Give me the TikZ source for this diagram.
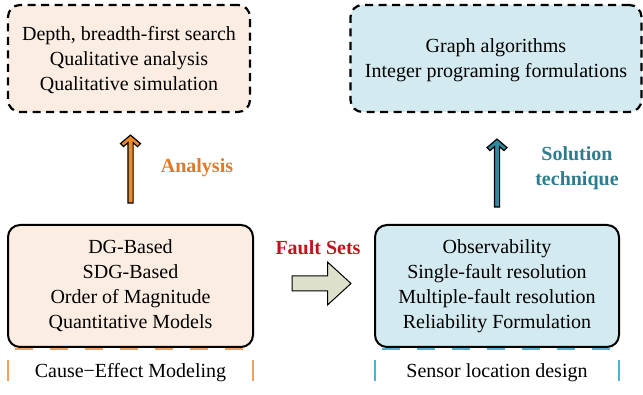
\documentclass[tikz,border=0pt]{standalone}
\usepackage{fontspec}
\setmainfont{Liberation Serif}
\usetikzlibrary{calc}
\definecolor{peach}{HTML}{FCEDE2}
\definecolor{paleblue}{HTML}{D3EAF0}
\definecolor{arrorange}{HTML}{EC8A2E}
\definecolor{arrteal}{HTML}{2F8A9E}
\definecolor{txtorange}{HTML}{E07A28}
\definecolor{txtteal}{HTML}{2E7D8E}
\definecolor{faultred}{HTML}{C0141C}
\definecolor{blockfill}{HTML}{DDE0CA}
\definecolor{dashorange}{HTML}{F5A05A}
\definecolor{dashblue}{HTML}{4DB3CE}
\tikzset{
  txt/.style={font=\fontsize{20}{25}\selectfont, align=center, inner sep=0pt},
  topbox/.style={txt, draw=black, line width=2.2pt, dash pattern=on 8pt off 5.5pt, rounded corners=12pt},
  mainbox/.style={txt, draw=black, line width=2pt, rounded corners=12pt},
  tagtext/.style={font=\fontsize{20}{25}\selectfont\bfseries, align=center, inner sep=0pt},
  lblframe/.style={line width=2pt},
  hframe/.style={lblframe, dash pattern=on 18pt off 17pt, dash phase=28pt},
  vframe/.style={lblframe, dash pattern=on 21pt off 100pt, dash phase=110.5pt},
  pics/uparrow/.style n args={2}{code={
    \draw[line width=1.2pt, fill=#1, line join=miter]
      (0,-3) -- (-10,5.5) -- (-7,8.5) -- (-2.6,4.6) -- (-2.6,#2) -- (2.6,#2)
      -- (2.6,4.6) -- (7,8.5) -- (10,5.5) -- cycle;
  }},
}
\begin{document}
\begin{tikzpicture}[x=1pt,y=-1pt]
\useasboundingbox (0,0) rectangle (643,395);

% method boxes (top row)
\node[topbox, fill=peach, minimum width=242pt, minimum height=107pt, text depth=-4pt] (tl) at (129,58.5)
  {Depth, breadth-first search\\Qualitative analysis\\Qualitative simulation};
\node[topbox, fill=paleblue, minimum width=291pt, minimum height=107pt, text depth=-4pt] (tr) at (496,58.5)
  {Graph algorithms\\Integer programing formulations};

% caption frames under the main boxes
\node[txt, minimum width=245pt, minimum height=46pt] (lcap) at (130.5,372.5) {Cause−Effect Modeling};
\node[txt, minimum width=244pt, minimum height=46pt] (rcap) at (497,372.5) {Sensor location design};
\foreach \cap/\col in {lcap/dashorange, rcap/dashblue}{
  \draw[hframe, \col] (\cap.north west) -- (\cap.north east);
  \draw[hframe, \col] (\cap.south west) -- (\cap.south east);
  \draw[vframe, \col] (\cap.north west) -- (\cap.south west);
  \draw[vframe, \col] (\cap.north east) -- (\cap.south east);
}

% main boxes (bottom row)
\node[mainbox, fill=peach, minimum width=245pt, minimum height=122pt] (bl) at (130.5,286)
  {DG-Based\\SDG-Based\\Order of Magnitude\\Quantitative Models};
\node[mainbox, fill=paleblue, minimum width=244pt, minimum height=122pt] (br) at (497,286)
  {Observability\\Single-fault resolution\\Multiple-fault resolution\\Reliability Formulation};

% upward arrows
\coordinate (tipL) at ([yshift=-25pt]bl.north |- tl.south);
\coordinate (tipR) at ([yshift=-29pt]br.north |- tr.south);
\pic at (tipL) {uparrow={arrorange}{65}};
\pic at (tipR) {uparrow={arrteal}{65}};

% block arrow between the main boxes
\coordinate (fs) at ($(bl.east)!0.5!(br.west)$);
\draw[line width=1pt, fill=blockfill, line join=miter, shift={(fs)}]
  (-22,-10) -- (13.5,-10) -- (13.5,-24) -- (37,-2.5) -- (13.5,19) -- (13.5,5) -- (-22,5) -- cycle;

% arrow labels
\node[tagtext, text=txtorange, anchor=base] (ana) at (197,173) {Analysis};
\node[tagtext, text=txtteal] (sol) at (577,168.5) {Solution\\technique};
\node[tagtext, text=faultred, anchor=base] (fault) at (318,255) {Fault Sets};
\end{tikzpicture}
\end{document}
